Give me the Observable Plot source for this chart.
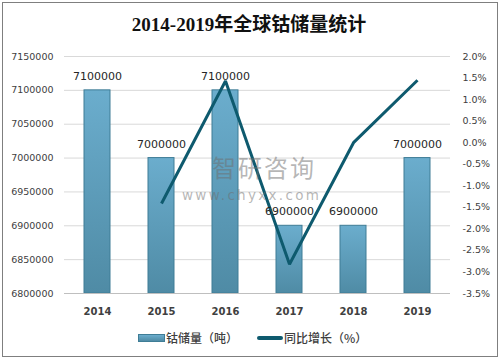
<!DOCTYPE html>
<html>
<head>
<meta charset="utf-8">
<script src="https://cdn.jsdelivr.net/npm/d3@7"></script>
<script src="https://cdn.jsdelivr.net/npm/@observablehq/plot@0.6"></script>
<style>
  html, body { margin: 0; padding: 0; background: #fff; }
  #wrap { position: relative; width: 502px; height: 361px; overflow: hidden; background: #fff; }
  #frame { position: absolute; left: 2px; top: 2px; width: 496px; height: 355px; box-sizing: border-box; border: 1.5px solid #7f7f7f; pointer-events: none; }
  #title { position: absolute; left: 0; width: 498px; top: 12px; line-height: 26px; text-align: center;
           font-family: "Liberation Serif", "Noto Sans CJK SC", serif; font-weight: bold; font-size: 19px; color: #111; }
  #chart { position: absolute; left: 0; top: 0; }
  .wm1 { position: absolute; left: 212px; top: 155px; font-family: "Noto Sans CJK SC", sans-serif; font-size: 24px; line-height: 24px; color: rgba(110,110,110,0.5); letter-spacing: 2px; }
  .wm2 { position: absolute; left: 182px; top: 188px; font-family: "DejaVu Sans", sans-serif; font-size: 13.5px; line-height: 14px; color: rgba(110,110,110,0.5); letter-spacing: 2.3px; }
  .lg-bar { position: absolute; left: 138px; top: 334px; width: 27px; height: 8px; background: linear-gradient(#6badcd, #4f8ba5); border: 1px solid #3f7d96; box-sizing: border-box; }
  .lg-line { position: absolute; left: 257px; top: 336px; width: 26px; height: 4px; background: #0e5a6e; border-radius: 2px; }
  .lg-text { position: absolute; top: 330px; line-height: 16px; font-family: "Noto Sans CJK SC", sans-serif; font-size: 12px; color: #404040; font-weight: 500; }
</style>
</head>
<body>
<div id="wrap">
  <div id="title"></div>
  <div id="chart"></div>
  <div class="wm1">智研咨询</div>
  <div class="wm2">www.chyxx.com</div>
  <div class="lg-bar"></div>
  <div class="lg-text" id="lg1" style="left:166px"></div>
  <div class="lg-line"></div>
  <div class="lg-text" id="lg2" style="left:284px"></div>
  <div id="frame"></div>
</div>
<script>
// ---- data ----
const title = "2014-2019年全球钴储量统计";
const years = ["2014", "2015", "2016", "2017", "2018", "2019"];
const reserves = [7100000, 7000000, 7100000, 6900000, 6900000, 7000000];
const growthYears = ["2015", "2016", "2017", "2018", "2019"];
const growthPct = [-1.41, 1.43, -2.82, 0.00, 1.45];
const leftTicks = [6800000, 6850000, 6900000, 6950000, 7000000, 7050000, 7100000, 7150000];
const rightTicks = [-3.5, -3.0, -2.5, -2.0, -1.5, -1.0, -0.5, 0.0, 0.5, 1.0, 1.5, 2.0];
const seriesNames = ["钴储量（吨）", "同比增长（%）"];

document.getElementById("title").textContent = title;
document.getElementById("lg1").textContent = seriesNames[0];
document.getElementById("lg2").textContent = seriesNames[1];

// ---- scales mapping (right axis onto left domain) ----
const yMin = leftTicks[0], yMax = leftTicks[leftTicks.length - 1];
const pMin = rightTicks[0], pMax = rightTicks[rightTicks.length - 1];
const pctToY = p => yMin + (p - pMin) / (pMax - pMin) * (yMax - yMin);
const yToPct = v => (v - yMin) / (yMax - yMin) * (pMax - pMin) + pMin;
const fmtPct = v => { let p = Math.round(yToPct(v) * 10) / 10; if (Math.abs(p) < 1e-9) p = 0; return p.toFixed(1) + "%"; };

const bars = years.map((y, i) => ({year: y, value: reserves[i]}));
const growth = growthYears.map((y, i) => ({year: y, pct: growthPct[i]}));

const chart = Plot.plot({
  width: 502,
  height: 320,
  marginTop: 56,
  marginBottom: 27,
  marginLeft: 64,
  marginRight: 52,
  style: {fontFamily: "DejaVu Sans, sans-serif", fontSize: "9.5px", color: "#404040", background: "transparent", overflow: "visible"},
  x: {domain: years, paddingInner: 0.6, paddingOuter: 0.3, label: null},
  y: {domain: [yMin, yMax], label: null},
  marks: [
    Plot.gridY(leftTicks, {stroke: "#d9d9d9", strokeOpacity: 1}),
    Plot.barY(bars, {x: "year", y1: yMin, y2: "value", fill: "url(#barGrad)", stroke: "#3f7d96", strokeWidth: 1}),
    Plot.ruleY([yMin], {stroke: "#bfbfbf", strokeWidth: 1}),
    Plot.axisY({anchor: "left", ticks: leftTicks, tickSize: 0, tickPadding: 11, tickFormat: d => String(d), label: null}),
    Plot.axisY({anchor: "right", ticks: rightTicks.map(pctToY), tickSize: 0, tickPadding: 12, tickFormat: fmtPct, label: null}),
    Plot.axisX({tickSize: 0, tickPadding: 14, fontWeight: "bold", fontSize: 10, label: null}),
    Plot.line(growth, {x: "year", y: d => pctToY(d.pct), stroke: "#0e5a6e", strokeWidth: 3, strokeLinejoin: "miter", strokeLinecap: "butt"}),
    Plot.text(bars, {x: "year", y: "value", text: d => String(d.value), dy: -14, fontSize: 11, fill: "#262626"})
  ]
});

// gradient definition for bars
const svg = d3.select(chart);
const defs = svg.insert("defs", ":first-child");
const g = defs.append("linearGradient").attr("id", "barGrad").attr("x1", 0).attr("y1", 0).attr("x2", 0).attr("y2", 1);
g.append("stop").attr("offset", "0%").attr("stop-color", "#6badcd");
g.append("stop").attr("offset", "100%").attr("stop-color", "#4f8ba5");

document.getElementById("chart").appendChild(chart);
</script>
</body>
</html>
